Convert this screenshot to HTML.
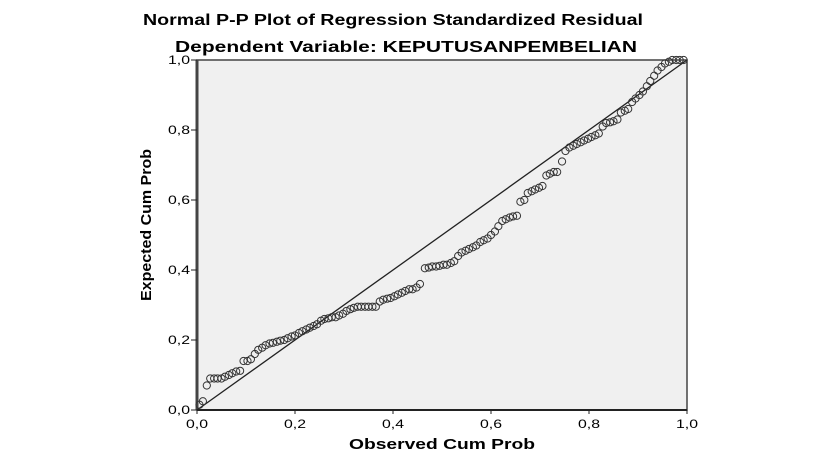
<!DOCTYPE html>
<html><head><meta charset="utf-8"><style>
body{margin:0;background:#fff;width:813px;height:466px;overflow:hidden}
svg{display:block;font-family:"Liberation Sans",Arial,sans-serif}
</style></head><body>
<svg id="c" width="813" height="466">
<text x="393" y="25" text-anchor="middle" font-size="15.5" font-weight="bold" textLength="500" lengthAdjust="spacingAndGlyphs">Normal P-P Plot of Regression Standardized Residual</text>
<text x="406" y="52" text-anchor="middle" font-size="15.5" font-weight="bold" textLength="462" lengthAdjust="spacingAndGlyphs">Dependent Variable: KEPUTUSANPEMBELIAN</text>
<rect x="197" y="60" width="490" height="350" fill="#f0f0f0" stroke="#444" stroke-width="1.5"/>
<line x1="197" y1="60" x2="197" y2="410" stroke="#444" stroke-width="3"/>
<line x1="197" y1="410" x2="687" y2="410" stroke="#222" stroke-width="2"/>
<g id="ticks"></g>
<line id="ref" stroke="#222" stroke-width="1.3"/>
<g id="pts"></g>
<text x="442" y="449" text-anchor="middle" font-size="14.5" font-weight="bold" textLength="186" lengthAdjust="spacingAndGlyphs">Observed Cum Prob</text>
<text transform="translate(151,225) rotate(-90)" text-anchor="middle" font-size="14.5" font-weight="bold" textLength="152" lengthAdjust="spacingAndGlyphs">Expected Cum Prob</text>
</svg>
<script>
const tickValues=[0,0.2,0.4,0.6,0.8,1.0];
const tickLabels=["0,0","0,2","0,4","0,6","0,8","1,0"];
const observed=[0.005,0.012,0.02,0.027,0.035,0.042,0.05,0.057,0.065,0.072,0.08,0.088,0.095,0.103,0.11,0.118,0.125,0.133,0.14,0.148,0.155,0.163,0.17,0.178,0.185,0.193,0.2,0.208,0.215,0.223,0.23,0.238,0.245,0.253,0.26,0.268,0.275,0.283,0.29,0.298,0.305,0.313,0.32,0.328,0.335,0.343,0.35,0.358,0.365,0.373,0.38,0.388,0.395,0.403,0.41,0.418,0.425,0.433,0.44,0.448,0.455,0.465,0.473,0.48,0.488,0.495,0.503,0.51,0.518,0.525,0.533,0.54,0.548,0.555,0.563,0.57,0.578,0.585,0.593,0.6,0.608,0.615,0.623,0.63,0.638,0.645,0.653,0.66,0.668,0.675,0.683,0.69,0.698,0.705,0.713,0.72,0.728,0.735,0.745,0.752,0.76,0.768,0.775,0.783,0.79,0.798,0.805,0.813,0.82,0.828,0.835,0.843,0.85,0.858,0.865,0.873,0.88,0.888,0.895,0.903,0.91,0.918,0.925,0.933,0.94,0.948,0.955,0.963,0.97,0.978,0.985,0.993];
const expected=[0.015,0.025,0.07,0.09,0.09,0.09,0.09,0.095,0.1,0.105,0.11,0.112,0.14,0.14,0.145,0.16,0.172,0.178,0.185,0.19,0.192,0.195,0.198,0.2,0.205,0.21,0.213,0.22,0.225,0.23,0.235,0.24,0.245,0.255,0.26,0.262,0.265,0.265,0.27,0.275,0.283,0.288,0.292,0.295,0.295,0.295,0.295,0.295,0.295,0.31,0.315,0.318,0.32,0.325,0.33,0.335,0.34,0.345,0.345,0.35,0.36,0.405,0.407,0.41,0.41,0.412,0.415,0.415,0.42,0.425,0.44,0.45,0.455,0.46,0.465,0.47,0.48,0.485,0.49,0.5,0.51,0.525,0.54,0.545,0.55,0.553,0.555,0.595,0.6,0.62,0.625,0.63,0.635,0.64,0.67,0.675,0.68,0.68,0.71,0.74,0.75,0.755,0.76,0.765,0.77,0.775,0.78,0.785,0.79,0.81,0.82,0.822,0.825,0.83,0.85,0.855,0.86,0.88,0.89,0.9,0.91,0.925,0.94,0.955,0.97,0.98,0.99,0.995,1.0,1.0,1.0,1.0];
const X=v=>197+v*490, Y=v=>410-v*350;
const NS="http://www.w3.org/2000/svg";
const tg=document.getElementById('ticks');
tickValues.forEach((v,i)=>{
  let l=document.createElementNS(NS,'line');
  l.setAttribute('x1',X(v));l.setAttribute('x2',X(v));l.setAttribute('y1',410);l.setAttribute('y2',414);l.setAttribute('stroke','#222');
  
  
  tg.appendChild(l);
  let t=document.createElementNS(NS,'text');
  t.setAttribute('x',X(v));t.setAttribute('y',428);t.setAttribute('text-anchor','middle');t.setAttribute('font-size','12');
  t.setAttribute('textLength','22');t.setAttribute('lengthAdjust','spacingAndGlyphs');
  t.textContent=tickLabels[i];
  
  
  tg.appendChild(t);
  let l2=document.createElementNS(NS,'line');
  l2.setAttribute('x1',191);l2.setAttribute('x2',197);l2.setAttribute('y1',Y(v));l2.setAttribute('y2',Y(v));l2.setAttribute('stroke','#222');
  
  
  tg.appendChild(l2);
  let t2=document.createElementNS(NS,'text');
  t2.setAttribute('x',190);t2.setAttribute('y',Y(v)+4);t2.setAttribute('text-anchor','end');t2.setAttribute('font-size','12');
  t2.setAttribute('textLength','22');t2.setAttribute('lengthAdjust','spacingAndGlyphs');
  t2.textContent=tickLabels[i];
  
  
  tg.appendChild(t2);
});
const r=document.getElementById('ref');
r.setAttribute('x1',X(0));r.setAttribute('y1',Y(0));r.setAttribute('x2',X(1));r.setAttribute('y2',Y(1));
const pg=document.getElementById('pts');
observed.forEach((o,i)=>{
  let c=document.createElementNS(NS,'circle');
  c.setAttribute('cx',X(o));c.setAttribute('cy',Y(expected[i]));c.setAttribute('r',3.6);
  c.setAttribute('fill','none');c.setAttribute('stroke','#333');c.setAttribute('stroke-width','1');
  
  
  pg.appendChild(c);
});
</script>
</body></html>
